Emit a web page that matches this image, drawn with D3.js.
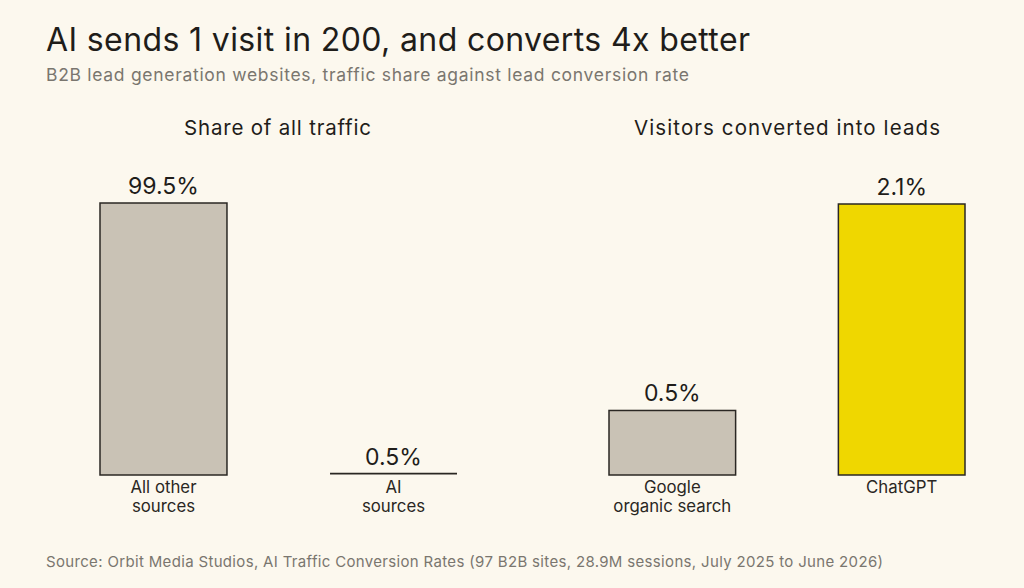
<!DOCTYPE html>
<html><head><meta charset="utf-8">
<script src="https://cdn.jsdelivr.net/npm/d3@7"></script>
<style>
html,body{margin:0;padding:0;background:#fcf8ee;}
svg{display:block;font-family:Inter, "Noto Sans", sans-serif;}
</style></head>
<body><svg id="c" width="1024" height="588"></svg>
<script>
const titleText = "AI sends 1 visit in 200, and converts 4x better";
const subtitleText = "B2B lead generation websites, traffic share against lead conversion rate";
const sourceText = "Source: Orbit Media Studios, AI Traffic Conversion Rates (97 B2B sites, 28.9M sessions, July 2025 to June 2026)";

const panelTitles = ["Share of all traffic", "Visitors converted into leads"];
const trafficCategories = [["All other", "sources"], ["AI", "sources"]];
const trafficValues = [99.5, 0.5];
const conversionCategories = [["Google", "organic search"], ["ChatGPT"]];
const conversionValues = [0.5, 2.1];
const highlight = [false, false, false, true];

const svg = d3.select("#c");
svg.append("rect").attr("width",1024).attr("height",588).attr("fill","#fcf8ee");

function fit(sel, w){ sel.attr("textLength", w).attr("lengthAdjust","spacing"); return sel; }

fit(svg.append("text").attr("x",46).attr("y",51).attr("font-size",32).attr("fill","#1f1d1a")
  .text(titleText), 704);
fit(svg.append("text").attr("x",46).attr("y",81).attr("font-size",17.5).attr("fill","#7a766f")
  .text(subtitleText), 643);
fit(svg.append("text").attr("x",46).attr("y",567).attr("font-size",15).attr("fill","#7a766f")
  .text(sourceText), 837);

const baseY = 475, topY = 203;

const panels = [
  {title: panelTitles[0], cats: trafficCategories, vals: trafficValues, range:[100,457], hl:[highlight[0],highlight[1]], center:277.5, tw:187},
  {title: panelTitles[1], cats: conversionCategories, vals: conversionValues, range:[609,965], hl:[highlight[2],highlight[3]], center:787, tw:306}
];

panels.forEach((p,pi) => {
  const x = d3.scaleBand().domain(p.cats.map((c,i)=>i)).range(p.range).paddingInner(0.448).paddingOuter(0);
  const y = d3.scaleLinear().domain([0, d3.max(p.vals)]).range([baseY, topY + (pi===1?1:0)]);
  const g = svg.append("g");
  fit(g.append("text").attr("x",p.center).attr("y",135).attr("text-anchor","middle")
    .attr("font-size",20.5).attr("fill","#1f1d1a").text(p.title), p.tw);
  p.vals.forEach((v,i) => {
    const h = baseY - y(v);
    if (h < 3) {
      g.append("line").attr("x1",x(i)).attr("x2",x(i)+x.bandwidth()).attr("y1",y(v)).attr("y2",y(v))
        .attr("stroke","#2a2723").attr("stroke-width",1.6);
    } else {
      g.append("rect").attr("x",x(i)).attr("y",y(v)).attr("width",x.bandwidth()).attr("height",h)
        .attr("fill", p.hl[i] ? "#efd700" : "#c9c2b5").attr("stroke","#2a2723").attr("stroke-width",1.5);
    }
    g.append("text").attr("x",x(i)+x.bandwidth()/2).attr("y",y(v)-9).attr("text-anchor","middle")
      .attr("font-size",23).attr("fill","#1f1d1a").text(v.toFixed(1)+"%");
    p.cats[i].forEach((line,j) => {
      g.append("text").attr("x",x(i)+x.bandwidth()/2).attr("y",493+j*19).attr("text-anchor","middle")
        .attr("font-size",16.8).attr("fill","#2a2723").text(line);
    });
  });
});
</script></body></html>
